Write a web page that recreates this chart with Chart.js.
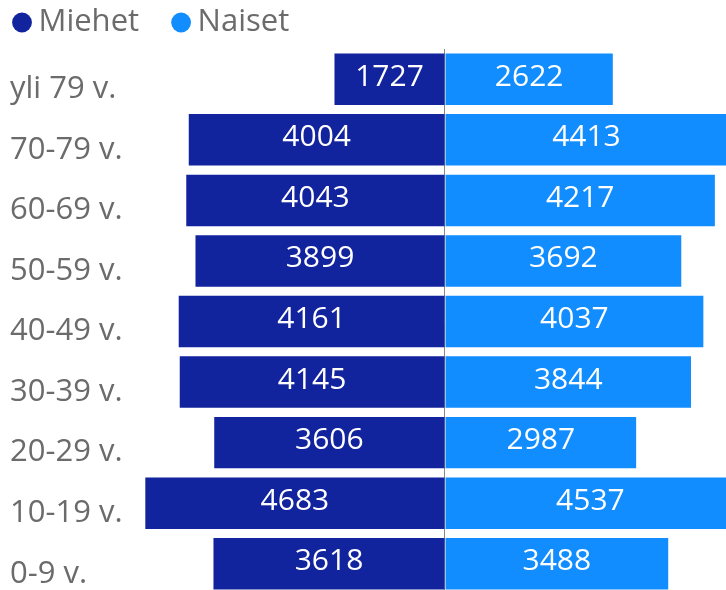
<!DOCTYPE html>
<html>
<head>
<meta charset="utf-8">
<script src="https://cdn.jsdelivr.net/npm/chart.js@4/dist/chart.umd.min.js"></script>
<style>
  html, body { margin: 0; padding: 0; background: #fff; overflow: hidden; }
  #wrap { position: absolute; left: 0; top: 0; width: 726px; height: 594px; }
</style>
</head>
<body>
<div id="wrap"><canvas id="c"></canvas></div>
<script>
const categories = ['yli 79 v.', '70-79 v.', '60-69 v.', '50-59 v.', '40-49 v.', '30-39 v.', '20-29 v.', '10-19 v.', '0-9 v.'];
const miehet = [1727, 4004, 4043, 3899, 4161, 4145, 3606, 4683, 3618];
const naiset = [2622, 4413, 4217, 3692, 4037, 3844, 2987, 4537, 3488];
const seriesNames = ['Miehet', 'Naiset'];

const FONT = "'Segoe UI', 'Open Sans', sans-serif";
const GRAY = '#6b6b6b';

const legendPlugin = {
  id: 'legendTweak',
  beforeLayout(chart) {
    const lg = chart.legend;
    if (lg && !lg._wrapped) {
      const orig = lg.fit;
      lg.fit = function () { orig.apply(this, arguments); this.height = 49; };
      lg._wrapped = true;
    }
  },
  afterLayout(chart) {
    const lg = chart.legend;
    if (lg) { lg.left = -20; lg.top = -34; }
  }
};

const labelPlugin = {
  id: 'barLabels',
  afterDatasetsDraw(chart) {
    const ctx = chart.ctx;
    ctx.save();
    ctx.font = "30px " + FONT;
    ctx.fillStyle = '#ffffff';
    ctx.textAlign = 'center';
    ctx.textBaseline = 'middle';
    chart.data.datasets.forEach((ds, di) => {
      const meta = chart.getDatasetMeta(di);
      meta.data.forEach((el, i) => {
        const v = Math.abs(ds.data[i]);
        const cx = (el.x + el.base) / 2;
        ctx.fillText(String(v), cx, el.y - 2);
      });
    });
    ctx.restore();
  }
};

new Chart(document.getElementById('c'), {
  type: 'bar',
  data: {
    labels: categories,
    datasets: [
      { label: seriesNames[0], data: miehet.map(v => -v), backgroundColor: '#12239E', categoryPercentage: 1, barPercentage: 0.85 },
      { label: seriesNames[1], data: naiset, backgroundColor: '#118DFF', categoryPercentage: 1, barPercentage: 0.85 }
    ]
  },
  options: {
    indexAxis: 'y',
    responsive: true,
    maintainAspectRatio: false,
    animation: false,
    layout: { padding: { left: 10, right: 0, top: 0, bottom: 0 } },
    plugins: {
      legend: {
        position: 'top',
        align: 'start',
        labels: {
          usePointStyle: true,
          pointStyle: 'circle',
          boxWidth: 2,
          boxHeight: 14,
          padding: 41,
          color: GRAY,
          font: { family: FONT, size: 31 }
        }
      },
      tooltip: { enabled: false }
    },
    scales: {
      x: {
        stacked: true,
        min: -4766,
        max: 4391,
        z: 1,
        ticks: { display: false },
        border: { display: false },
        grid: {
          drawTicks: false,
          lineWidth: 1,
          color: (c) => (c.tick && c.tick.value === 0) ? '#8a8886' : 'rgba(0,0,0,0)'
        },
        afterFit(scale) { scale.height = 0; scale.paddingLeft = 0; scale.paddingRight = 0; }
      },
      y: {
        stacked: true,
        grid: { display: false },
        border: { display: false },
        ticks: {
          color: GRAY,
          font: { family: FONT, size: 31 },
          crossAlign: 'far',
          labelOffset: 10,
          padding: 0
        },
        afterFit(scale) { scale.width = 130; scale.paddingTop = 0; scale.paddingBottom = 0; }
      }
    }
  },
  plugins: [legendPlugin, labelPlugin]
});
</script>
</body>
</html>
